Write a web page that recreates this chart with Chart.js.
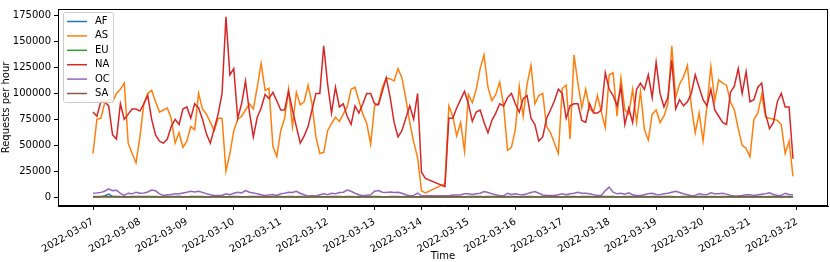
<!DOCTYPE html>
<html>
<head>
<meta charset="utf-8">
<script src="https://cdn.jsdelivr.net/npm/chart.js@4.4.1/dist/chart.umd.min.js"></script>
<style>
  html, body { margin: 0; padding: 0; background: #fff; }
  #wrap { width: 830px; height: 262px; }
</style>
</head>
<body>
<div id="wrap"><canvas id="chart" width="830" height="262"></canvas></div>
<script>
// hourly samples (every 2h) from 2022-03-07 00:00, no rows between hour 170 and 180
const hours = [];
for (let h = 0; h <= 170; h += 2) hours.push(h);
for (let h = 180; h <= 358; h += 2) hours.push(h);

const dayTicks = [0, 24, 48, 72, 96, 120, 144, 168, 192, 216, 240, 264, 288, 312, 336, 360];
const yTicks = [0, 25000, 50000, 75000, 100000, 125000, 150000, 175000];
const regions = ['AF', 'AS', 'EU', 'NA', 'OC', 'SA'];
const colors = ['#1f77b4', '#ff7f0e', '#2ca02c', '#d62728', '#9467bd', '#8c564b'];

// values in thousands of requests per hour
const af = [
  0.3,0.4,0.3,1.0,2.8,0.5,0.3,0.2,0.3,0.2, 0.2,0.3,0.3,0.4,0.3,0.2,0.2,0.3,0.2,0.2,
  0.3,0.3,0.4,0.3,0.2,0.3,0.2,0.2,0.3,0.3, 0.2,0.2,0.3,0.4,0.3,0.2,0.2,0.3,0.3,0.2,
  0.2,0.3,0.3,0.2,0.2,0.2,0.3,0.4,0.3,0.2, 0.2,0.3,0.2,0.2,0.3,0.3,0.2,0.2,0.3,0.2,
  0.3,0.2,0.2,0.3,0.3,0.2,0.2,0.3,0.2,0.2, 0.3,0.3,0.2,0.2,0.3,0.2,0.2,0.3,0.3,0.2,
  0.2,0.3,0.2,0.2,0.1,0.1,
  0.1,0.2,0.2,0.3,0.2,0.2,0.3,0.2,0.2,0.3, 0.3,0.2,0.2,0.3,0.2,0.2,0.2,0.3,0.2,0.2,
  0.3,0.2,0.2,0.2,0.3,0.3,0.2,0.2,0.3,0.2, 0.2,0.3,0.2,0.2,0.3,0.2,0.2,0.2,0.3,0.2,
  0.2,0.3,0.3,0.2,0.2,0.3,0.2,0.2,0.3,0.2, 0.3,0.2,0.2,0.3,0.2,0.2,0.3,0.3,0.2,0.2,
  0.2,0.3,0.2,0.2,0.3,0.2,0.2,0.3,0.2,0.2, 0.3,0.2,0.2,0.3,0.3,0.2,0.2,0.2,0.3,0.2,
  0.2,0.3,0.2,0.2,0.3,0.2,0.2,0.3,0.2,0.2
];
const as = [
  42,75,76,91,94,92,100,104,110,52, 42,33,58,90,100,103,92,82,84,86,
  76,52,62,48,54,68,65,100,85,80, 72,64,76,76,25,42,64,75,78,84,
  90,85,106,129,103,105,49,39,64,76, 104,68,101,89,92,108,90,58,42,43,
  64,71,77,73,80,87,104,106,93,80, 71,51,88,90,106,115,114,112,124,115,
  95,72,53,38,6,4,
  13,88,78,59,72,44,99,91,104,124, 137,106,93,99,111,88,45,48,65,107,
  78,109,127,90,98,100,68,62,52,42, 105,108,56,137,110,86,104,85,82,98,
  82,67,118,120,78,115,84,80,104,72, 102,65,55,80,84,72,78,90,146,96,
  109,116,127,88,62,81,54,88,126,93, 113,110,108,92,84,66,50,47,39,75,
  81,99,77,76,75,74,70,42,54,20
];
const eu = [
  0.1,0.1,0.2,0.1,0.1,0.2,0.1,0.1,0.1,0.2, 0.1,0.1,0.1,0.2,0.1,0.1,0.2,0.1,0.1,0.1,
  0.2,0.1,0.1,0.1,0.2,0.1,0.1,0.1,0.2,0.1, 0.1,0.2,0.1,0.1,0.1,0.2,0.1,0.1,0.2,0.1,
  0.1,0.1,0.2,0.1,0.1,0.2,0.1,0.1,0.1,0.2, 0.1,0.1,0.2,0.1,0.1,0.1,0.2,0.1,0.1,0.1,
  0.2,0.1,0.1,0.2,0.1,0.1,0.1,0.2,0.1,0.1, 0.1,0.2,0.1,0.1,0.2,0.1,0.1,0.1,0.2,0.1,
  0.1,0.2,0.1,0.1,0.1,0.1,
  0.1,0.1,0.1,0.2,0.1,0.1,0.2,0.1,0.1,0.1, 0.2,0.1,0.1,0.1,0.2,0.1,0.1,0.2,0.1,0.1,
  0.1,0.2,0.1,0.1,0.2,0.1,0.1,0.1,0.2,0.1, 0.1,0.1,0.2,0.1,0.1,0.2,0.1,0.1,0.1,0.2,
  0.1,0.1,0.2,0.1,0.1,0.1,0.2,0.1,0.1,0.2, 0.1,0.1,0.1,0.2,0.1,0.1,0.2,0.1,0.1,0.1,
  0.2,0.1,0.1,0.1,0.2,0.1,0.1,0.2,0.1,0.1, 0.1,0.2,0.1,0.1,0.1,0.2,0.1,0.1,0.2,0.1,
  0.1,0.1,0.2,0.1,0.1,0.2,0.1,0.1,0.1,0.1
];
const na = [
  82,78,92,92,88,60,56,90,75,80, 85,85,83,90,98,75,60,54,52,56,
  68,75,70,85,87,76,90,86,75,61, 52,66,80,100,174,118,124,76,90,112,
  82,58,77,86,99,95,101,93,84,84, 102,84,68,52,59,68,84,100,100,146,
  109,81,106,87,90,78,70,88,81,90, 100,100,90,89,102,115,96,72,58,64,
  76,88,75,100,24,18,
  10,76,76,86,94,102,90,73,82,84, 72,62,74,81,90,88,96,100,90,82,
  95,98,76,70,54,58,76,84,93,104, 100,76,88,90,90,74,72,90,81,81,
  84,120,104,98,88,106,70,86,72,104, 110,104,118,96,130,100,87,96,132,85,
  94,88,92,100,118,106,94,88,104,84, 78,72,70,101,107,124,100,121,92,94,
  106,110,80,66,72,92,100,87,87,37
];
const oc = [
  3.7,3.9,4.5,5.6,8.0,6.2,6.6,3.5,1.6,3.7, 3.1,4.7,3.7,4.0,4.9,6.8,6.0,3.1,1.6,2.2,
  2.4,3.1,3.2,3.9,4.6,5.6,4.8,5.6,4.5,3.1, 2.2,1.6,1.6,1.6,3.1,2.2,3.7,4.7,4.0,6.2,
  4.6,4.0,3.1,2.2,1.6,1.9,2.5,1.6,3.1,3.7, 4.7,4.3,5.6,3.7,2.2,0.9,1.2,0.9,2.2,3.1,
  2.2,3.7,3.1,4.3,4.7,6.8,5.6,3.7,2.2,1.2, 1.8,2.2,5.6,6.2,4.7,4.3,4.9,4.3,4.7,3.7,
  2.2,1.2,1.6,3.7,1.2,1.2,
  1.2,1.2,1.9,2.0,2.2,3.1,3.1,2.5,3.1,3.7, 5.3,4.3,3.1,2.2,1.2,1.2,3.7,2.5,3.1,2.5,
  2.2,3.1,4.3,5.3,3.7,2.0,1.6,1.6,1.6,2.2, 3.1,2.2,3.1,3.7,4.7,3.7,3.7,3.1,2.2,1.6,
  1.6,6.2,9.6,4.7,3.1,3.7,2.8,4.0,2.2,1.6, 1.6,2.2,3.1,3.7,2.5,2.2,3.1,3.7,4.7,5.6,
  4.3,3.1,2.2,1.2,1.6,3.1,2.4,2.2,4.0,3.1, 3.1,3.7,2.8,1.6,0.9,1.2,1.6,2.2,2.2,1.6,
  2.2,2.8,3.1,4.0,2.5,1.6,1.6,3.7,2.5,2.2
];
const sa = [
  0.4,0.3,0.5,0.4,0.3,0.4,0.5,0.4,0.3,0.3, 0.4,0.5,0.4,0.3,0.4,0.4,0.5,0.3,0.3,0.4,
  0.4,0.5,0.4,0.3,0.3,0.4,0.5,0.4,0.4,0.3, 0.3,0.4,0.5,0.4,0.3,0.4,0.4,0.5,0.3,0.3,
  0.4,0.4,0.5,0.4,0.3,0.3,0.4,0.5,0.4,0.3, 0.4,0.4,0.3,0.5,0.4,0.3,0.4,0.4,0.5,0.3,
  0.3,0.4,0.5,0.4,0.3,0.4,0.4,0.3,0.5,0.4, 0.3,0.4,0.4,0.5,0.3,0.3,0.4,0.5,0.4,0.3,
  0.4,0.4,0.3,0.3,0.2,0.2,
  0.2,0.3,0.4,0.4,0.5,0.3,0.4,0.4,0.5,0.4, 0.3,0.4,0.4,0.5,0.3,0.3,0.4,0.5,0.4,0.3,
  0.4,0.5,0.4,0.3,0.3,0.4,0.5,0.4,0.4,0.3, 0.3,0.4,0.5,0.4,0.3,0.4,0.4,0.5,0.3,0.3,
  0.4,0.4,0.5,0.4,0.3,0.3,0.4,0.5,0.4,0.3, 0.4,0.4,0.3,0.5,0.4,0.3,0.4,0.4,0.5,0.3,
  0.3,0.4,0.5,0.4,0.3,0.4,0.4,0.3,0.5,0.4, 0.3,0.4,0.4,0.5,0.3,0.3,0.4,0.5,0.4,0.3,
  0.4,0.4,0.3,0.4,0.5,0.4,0.3,0.4,0.4,0.3
];
const seriesValues = [af, as, eu, na, oc, sa];

Chart.defaults.font.family = 'DejaVu Sans';
Chart.defaults.font.size = 10;
Chart.defaults.color = '#000';

const dayLabel = v => `2022-03-${String(7 + v / 24).padStart(2, '0')}`;

const datasets = regions.map((name, i) => ({
  label: name,
  data: seriesValues[i].map((v, j) => ({ x: hours[j], y: v * 1000 })),
  borderColor: colors[i],
  backgroundColor: colors[i],
  borderWidth: 1.5,
  pointRadius: 0,
  tension: 0,
  fill: false,
  order: regions.length - 1 - i
}));

// box around the axes plus the legend in the upper left corner
const framePlugin = {
  id: 'frame',
  afterDatasetsDraw(chart) {
    const { ctx, chartArea: a } = chart;
    ctx.save();
    ctx.strokeStyle = '#000';
    ctx.lineWidth = 1;
    ctx.strokeRect(Math.round(a.left) + 0.5, Math.round(a.top) + 0.5, Math.round(a.right - a.left) - 1, Math.round(a.bottom - a.top) - 1);

    const bx = a.left + 5.5, by = a.top + 3.5, bw = 50, bh = 90;
    ctx.beginPath();
    ctx.roundRect(bx, by, bw, bh, 2);
    ctx.fillStyle = 'rgba(255,255,255,0.8)';
    ctx.fill();
    ctx.strokeStyle = '#cccccc';
    ctx.stroke();

    ctx.font = '10px "DejaVu Sans"';
    ctx.textBaseline = 'middle';
    ctx.textAlign = 'left';
    regions.forEach((name, i) => {
      const y = by + 9 + i * 14.4;
      ctx.beginPath();
      ctx.moveTo(bx + 3.5, y);
      ctx.lineTo(bx + 23.5, y);
      ctx.strokeStyle = colors[i];
      ctx.lineWidth = 1.5;
      ctx.stroke();
      ctx.fillStyle = '#000';
      ctx.fillText(name, bx + 31.5, y);
    });
    ctx.restore();
  }
};

new Chart(document.getElementById('chart'), {
  type: 'line',
  data: { datasets },
  options: {
    responsive: false,
    animation: false,
    devicePixelRatio: 1,
    layout: { padding: { top: 2, right: 2, left: 0, bottom: 0 } },
    plugins: { legend: { display: false }, tooltip: { enabled: false } },
    scales: {
      x: {
        type: 'linear',
        min: -17.9,
        max: 375.9,
        afterBuildTicks: s => { s.ticks = dayTicks.map(v => ({ value: v })); },
        afterFit: s => { s.height = 56; },
        grid: { drawOnChartArea: false, tickLength: 4, tickColor: '#000' },
        border: { color: '#000' },
        ticks: { autoSkip: false, minRotation: 30, maxRotation: 30, padding: 6, color: '#000', callback: v => dayLabel(v) },
        title: { display: true, text: 'Time', color: '#000', padding: { top: 0, bottom: 0 } }
      },
      y: {
        min: -8650,
        max: 181500,
        afterBuildTicks: s => { s.ticks = yTicks.map(v => ({ value: v })); },
        afterFit: s => { s.width = 58; },
        grid: { drawOnChartArea: false, tickLength: 4, tickColor: '#000' },
        border: { color: '#000' },
        ticks: { padding: 3, color: '#000', callback: v => String(v) },
        title: { display: true, text: 'Requests per hour', color: '#000', padding: { top: 0, bottom: 0 } }
      }
    }
  },
  plugins: [framePlugin]
});
</script>
</body>
</html>
